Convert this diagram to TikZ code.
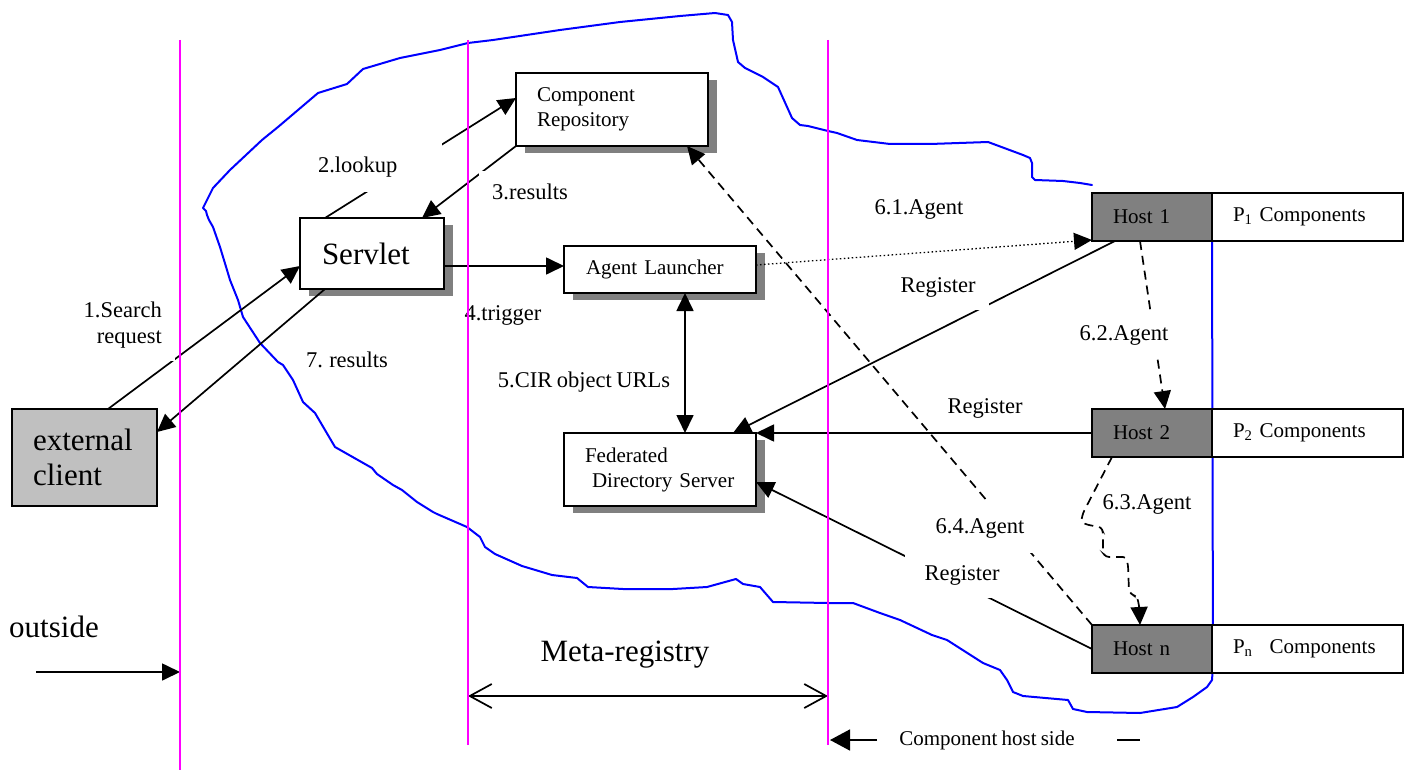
\documentclass[tikz,border=0pt]{standalone}
\usepackage{fontspec}
\setmainfont{Liberation Serif}[WordSpace=0.8]
\usetikzlibrary{arrows.meta,calc,shadows}
\definecolor{hostgray}{HTML}{808080}
\definecolor{clientgray}{HTML}{C0C0C0}
\definecolor{cloudblue}{HTML}{0000FF}
\definecolor{borderpink}{HTML}{FF00FF}
\begin{document}
\begin{tikzpicture}[x=1pt,y=-1pt,
  box/.style={draw, line width=2pt, fill=white, inner ysep=0pt, outer sep=0pt, align=left},
  shadowed/.style={general shadow={fill=hostgray, shadow xshift=9pt, shadow yshift=-7pt}},
  nodefont/.style={font=\fontsize{21}{25}\selectfont},
  bigfont/.style={font=\fontsize{31}{35}\selectfont},
  lbl/.style={font=\fontsize{22.5}{26}\selectfont, inner sep=0pt},
  gaplbl/.style={lbl, fill=white, inner sep=13pt},
  hostbox/.style={box, nodefont, fill=hostgray, inner xsep=21pt, text width=78pt, minimum height=48pt},
  pbox/.style={box, nodefont, inner xsep=21pt, text width=149pt, minimum height=48pt},
  conn/.style={line width=1.7pt, -{Triangle[length=18pt,width=17pt]}},
  dconn/.style={conn, dash pattern=on 9pt off 6pt},
  boundary/.style={borderpink, line width=2pt},
  cloud/.style={cloudblue, line width=2pt, line join=round, line cap=round}
]
\useasboundingbox (0,0) rectangle (1412,770);

% cloud
\draw[cloud] (1092,185) -- (1080,183) -- (1063,181) -- (1035,180) -- (1032,177) -- (1032,163) -- (1030,158) -- (1023,155) -- (988,142) -- (930,144) -- (890,144) -- (857,140) -- (837,133) -- (828,131) -- (808,126) -- (800,125) -- (792,118) -- (778,87) -- (763,77) -- (745,68) -- (738,62) -- (733,40) -- (732,22) -- (728,15) -- (715,13) -- (680,16) -- (620,22) -- (560,30) -- (493,40) -- (468,43) -- (440,50) -- (400,58) -- (363,69) -- (347,84) -- (318,93) -- (278,127) -- (262,140) -- (230,170) -- (213,188) -- (203,208) -- (206,211) -- (207,215) -- (209,220) -- (213,227) -- (220,247) -- (227,270) -- (230,280) -- (238,300) -- (243,317) -- (260,343) -- (278,362) -- (283,365) -- (293,380) -- (303,402) -- (315,413) -- (335,447) -- (372,468) -- (377,474) -- (393,485) -- (402,490) -- (417,502) -- (433,512) -- (437,514) -- (467,527) -- (480,537) -- (485,547) -- (495,554) -- (522,566) -- (552,575) -- (577,578) -- (588,587) -- (623,589) -- (673,589) -- (707,587) -- (736,579) -- (743,584) -- (760,587) -- (773,602) -- (828,603) -- (853,603) -- (880,613) -- (900,620) -- (932,635) -- (947,640) -- (983,663) -- (1000,670) -- (1007,680) -- (1013,692) -- (1023,696) -- (1068,700) -- (1073,709) -- (1087,712) -- (1140,713) -- (1177,707) -- (1193,697) -- (1207,687) -- (1212,680) -- (1213,665) -- (1212,241);

% boxes
\node[box, bigfont, fill=clientgray, inner xsep=21pt, text width=103pt, minimum height=97pt] (ec) at (84.5,457.5) {external\\client};
\node[box, shadowed, bigfont, inner xsep=22pt, text width=100pt, minimum height=71pt] (sv) at (372,253.5) {Servlet};
\node[box, shadowed, nodefont, inner xsep=21pt, text width=150pt, minimum height=73pt] (cr) at (612,109.5) {Component\\Repository};
\node[box, shadowed, nodefont, inner xsep=22pt, text width=148pt, minimum height=47pt] (al) at (660,269.5) {Agent Launcher};
\node[box, shadowed, nodefont, inner xsep=21pt, text width=150pt, minimum height=73pt] (fds) at (660,469.5) {Federated\\\hspace*{7pt}Directory Server};
\node[hostbox] (h1) at (1152,217) {Host 1};
\node[pbox] (p1) at (1307.5,217) {P\textsubscript{1} Components};
\node[hostbox] (h2) at (1152,433) {Host 2};
\node[pbox] (p2) at (1307.5,433) {P\textsubscript{2} Components};
\node[hostbox] (hn) at (1152,649) {Host n};
\node[pbox] (pn) at (1307.5,649) {P\textsubscript{n}\hspace{10pt} Components};

% connectors
\draw[conn] ($(ec.north west)+(96,0)$) -- ($(sv.south west)+(0,-23)$);
\draw[conn] ($(sv.south west)+(25,0)$) -- ($(ec.north east)+(0,23)$);
\draw[conn] ($(sv.north west)+(25,0)$) -- ($(cr.north west)+(0,25)$);
\draw[conn] (cr.south west) -- ($(sv.north west)+(122,0)$);
\draw[conn] ($(sv.north east)+(0,48)$) -- ($(al.north west)+(0,20)$);
\draw[conn, {Triangle[length=18pt,width=17pt]}-{Triangle[length=18pt,width=17pt]}] ($(al.south west)+(121,0)$) -- ($(fds.north west)+(121,0)$);
\draw[conn, line width=1.3pt, dash pattern=on 1.5pt off 2.5pt] ($(al.north east)+(0,19)$) -- ($(h1.south west)+(0,-1)$);
\draw[conn] ($(h1.south west)+(23,0)$) -- ($(fds.north west)+(169,0)$);
\draw[conn] (h2.west) -- (fds.north east);
\draw[conn] (hn.west) -- ($(fds.north east)+(0,49)$);
\draw[dconn] ($(h1.south west)+(48,0)$) -- ($(h2.north west)+(73,0)$);
\draw[dconn, rounded corners=3pt] ($(h2.south west)+(20,0)$) -- (1083,513) -- (1081,522) -- (1088,525) -- (1101,527) -- (1103,532) -- (1103,553) -- (1106,557) -- (1126,557) -- (1128,565) -- (1129,592) -- (1133,595) -- (1137,597) -- (1139,605) -- ($(hn.north west)+(48,0)$);
\draw[dconn] (hn.north west) -- ($(cr.south west)+(171,0)$);

% bottom annotations
\coordinate (outA) at (36,672);
\coordinate (outB) at (180,672);
\draw[conn] (outA) -- (outB);
\coordinate (mrA) at (468,696);
\coordinate (mrB) at (828,696);
\draw[line width=1.7pt, {Straight Barb[length=22pt,width=24pt]}-{Straight Barb[length=22pt,width=24pt]}] (mrA) -- (mrB);
\coordinate (chA) at (877,740);
\coordinate (chB) at (830,740);
\draw[conn, -{Triangle[length=20pt,width=21pt]}] (chA) -- (chB);
\coordinate (dashA) at (1117,740);
\coordinate (dashB) at (1140,740);
\draw[line width=1.7pt] (dashA) -- (dashB);

% labels
\node[gaplbl, anchor=east, align=right] (l1) at (175,325) {1.Search\\request};
\node[lbl, fill=white, text width=120pt, align=left, inner xsep=4pt, minimum height=50pt] (l2) at (378,167) {2.lookup};
\node[gaplbl] (l3) at (530,192) {3.results};
\node[lbl] (l4) at (503,315) {4.trigger};
\node[lbl] (l5) at (584,382) {5.CIR object URLs};
\node[lbl] (l7) at (347,360) {7. results};
\node[lbl] (l61) at (919,209) {6.1.Agent};
\node[gaplbl] (r1) at (938,287) {Register};
\node[gaplbl, inner sep=10pt] (r2) at (985,408) {Register};
\node[gaplbl, inner xsep=20pt] (r3) at (962,575) {Register};
\node[gaplbl] (l62) at (1124,335) {6.2.Agent};
\node[lbl] (l63) at (1147,504) {6.3.Agent};
\node[gaplbl, inner ysep=15pt] (l64) at (980,528) {6.4.Agent};
\node[bigfont, inner sep=0pt] (outside) at (54,627) {outside};
\node[bigfont, inner sep=0pt] (meta) at (625,655) {Meta-registry};
\node[nodefont, inner sep=0pt] (chs) at (987,740) {Component host side};

% region boundaries
\draw[boundary] (180,40) -- (180,770);
\draw[boundary] (468,40) -- (468,745);
\draw[boundary] (828,40) -- (828,745);
\end{tikzpicture}
\end{document}
